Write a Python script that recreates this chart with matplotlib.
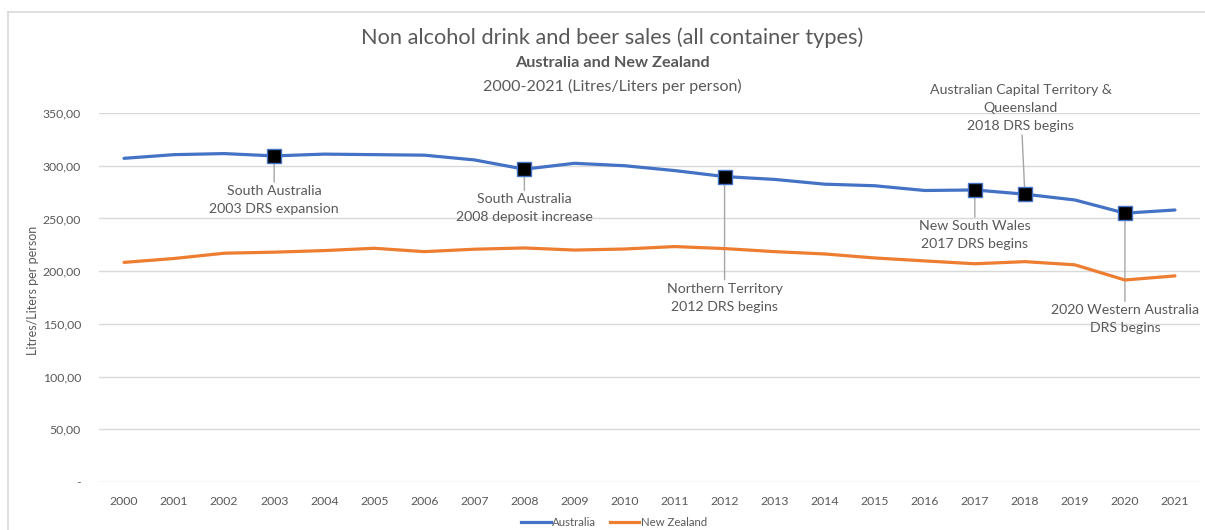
import matplotlib
matplotlib.use("Agg")
import matplotlib.pyplot as plt
from matplotlib.lines import Line2D
from matplotlib.ticker import FuncFormatter

years = list(range(2000, 2022))
australia = [307, 310.5, 311.5, 309.3, 311, 310.5, 310, 305.5, 296.7, 302.3,
             300, 295.4, 289.7, 287, 282.5, 281, 276.5, 277, 273, 267.5, 255, 258]
new_zealand = [208.3, 212, 217, 218, 219.5, 221.7, 218.5, 220.8, 222, 220,
               221, 223.3, 221.4, 218.5, 216.3, 212.5, 209.7, 207, 209, 206, 191.6, 195.5]

# DRS milestones: year, label, text offset from the marker (px)
events = [
    (2003, "South Australia\n2003 DRS expansion", 0, -44),
    (2008, "South Australia\n2008 deposit increase", 0, -39),
    (2012, "Northern Territory\n2012 DRS begins", 0, -121),
    (2017, "New South Wales\n2017 DRS begins", 0, -45),
    (2018, "Australian Capital Territory &\nQueensland\n2018 DRS begins", -4, 86),
    (2020, "2020 Western Australia\nDRS begins", 0, -106),
]

blue = "#4472C4"
orange = "#ED7D31"
grey_text = "#595959"

plt.rcParams["font.family"] = ["Lato", "DejaVu Sans"]

fig = plt.figure(figsize=(12.05, 5.3), dpi=100)
ax = fig.add_axes([99 / 1205, 1 - 482 / 530, 1101 / 1205, (482 - 113) / 530])

ax.plot(years, australia, color=blue, lw=2.3, solid_capstyle="round", zorder=3)
ax.plot(years, new_zealand, color=orange, lw=2.3, solid_capstyle="round", zorder=3)

for year, label, dx, dy in events:
    val = australia[years.index(year)]
    ax.annotate(label, xy=(year, val), xytext=(dx * 0.72, dy * 0.72),
                textcoords="offset points", ha="center", va="center",
                fontsize=10.2, color=grey_text, linespacing=1.6, zorder=2,
                arrowprops=dict(arrowstyle="-", color="#a6a6a6", lw=1,
                                shrinkA=0, shrinkB=0))
    ax.plot(year, val, marker="s", ms=9.5, mfc="black", mec=blue, mew=1,
            zorder=5)

ax.set_xlim(1999.5, 2021.5)
ax.set_ylim(0, 350)
ax.set_xticks(years)
ax.set_yticks(range(0, 351, 50))
ax.yaxis.set_major_formatter(FuncFormatter(
    lambda v, p: "-" if v == 0 else f"{v:.2f}".replace(".", ",")))
ax.tick_params(axis="x", length=0, labelsize=8.8, labelcolor=grey_text, pad=10)
ax.tick_params(axis="y", length=0, labelsize=8.8, labelcolor=grey_text, pad=13)
ax.grid(axis="y", color="#d9d9d9", lw=1)
ax.set_axisbelow(True)
for s in ax.spines.values():
    s.set_visible(False)

ax.set_ylabel("Litres/Liters per person", fontsize=9, color=grey_text)
ax.yaxis.set_label_coords(-60 / 1101, 0.52)

fig.text(612 / 1205, 1 - 38 / 530, "Non alcohol drink and beer sales (all container types)",
         ha="center", va="center", fontsize=15.7, color=grey_text)
fig.text(612 / 1205, 1 - 63 / 530, "Australia and New Zealand",
         ha="center", va="center", fontsize=11.7, fontweight="bold", color=grey_text)
fig.text(612 / 1205, 1 - 86 / 530, "2000-2021 (Litres/Liters per person)",
         ha="center", va="center", fontsize=11.5, color=grey_text)

handles = [Line2D([], [], color=blue, lw=2.3), Line2D([], [], color=orange, lw=2.3)]
fig.legend(handles, ["Australia", "New Zealand"], loc="center",
           bbox_to_anchor=(614 / 1205, 1 - 522 / 530), ncol=2, frameon=False,
           fontsize=8.2, labelcolor=grey_text, handlelength=2.6,
           handletextpad=0.1, columnspacing=1.2)

# chart-area border
fig.add_artist(Line2D([8 / 1205, 8 / 1205], [0, 1 - 12 / 530], color="#d9d9d9", lw=1.2,
                      transform=fig.transFigure))
fig.add_artist(Line2D([8 / 1205, 1], [1 - 12 / 530, 1 - 12 / 530], color="#d9d9d9", lw=1.2,
                      transform=fig.transFigure))

fig.savefig("out.png", dpi=100)
